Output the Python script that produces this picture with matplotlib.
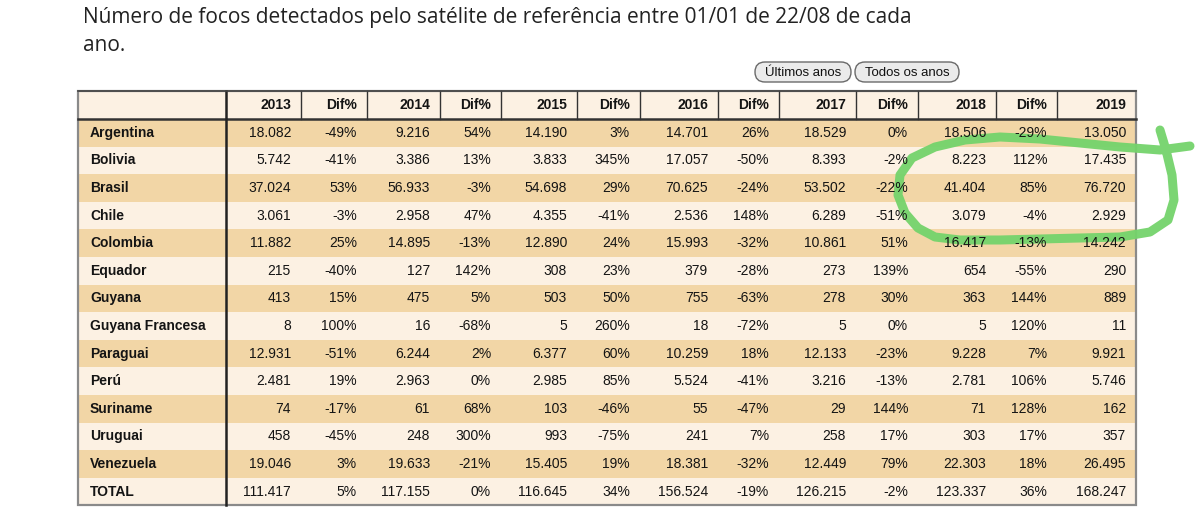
import matplotlib.pyplot as plt
from matplotlib.patches import Rectangle, FancyBboxPatch

title = "Número de focos detectados pelo satélite de referência entre 01/01 de 22/08 de cada\nano."
buttons = ["Últimos anos", "Todos os anos"]

countries = ["Argentina", "Bolivia", "Brasil", "Chile", "Colombia", "Equador", "Guyana",
             "Guyana Francesa", "Paraguai", "Perú", "Suriname", "Uruguai", "Venezuela", "TOTAL"]
years = [2013, 2014, 2015, 2016, 2017, 2018, 2019]

f2013 = [18082, 5742, 37024, 3061, 11882, 215, 413, 8, 12931, 2481, 74, 458, 19046, 111417]
d2013 = [-49, -41, 53, -3, 25, -40, 15, 100, -51, 19, -17, -45, 3, 5]
f2014 = [9216, 3386, 56933, 2958, 14895, 127, 475, 16, 6244, 2963, 61, 248, 19633, 117155]
d2014 = [54, 13, -3, 47, -13, 142, 5, -68, 2, 0, 68, 300, -21, 0]
f2015 = [14190, 3833, 54698, 4355, 12890, 308, 503, 5, 6377, 2985, 103, 993, 15405, 116645]
d2015 = [3, 345, 29, -41, 24, 23, 50, 260, 60, 85, -46, -75, 19, 34]
f2016 = [14701, 17057, 70625, 2536, 15993, 379, 755, 18, 10259, 5524, 55, 241, 18381, 156524]
d2016 = [26, -50, -24, 148, -32, -28, -63, -72, 18, -41, -47, 7, -32, -19]
f2017 = [18529, 8393, 53502, 6289, 10861, 273, 278, 5, 12133, 3216, 29, 258, 12449, 126215]
d2017 = [0, -2, -22, -51, 51, 139, 30, 0, -23, -13, 144, 17, 79, -2]
f2018 = [18506, 8223, 41404, 3079, 16417, 654, 363, 5, 9228, 2781, 71, 303, 22303, 123337]
d2018 = [-29, 112, 85, -4, -13, -55, 144, 120, 7, 106, 128, 17, 18, 36]
f2019 = [13050, 17435, 76720, 2929, 14242, 290, 889, 11, 9921, 5746, 162, 357, 26495, 168247]

# hand-drawn green loop (pixel coords of the scribble over the screenshot)
loop_x = [1190, 1160, 1120, 1080, 1040, 1000, 965, 935, 912, 900, 898, 905, 918, 935, 960,
          1000, 1040, 1080, 1120, 1150, 1168, 1174, 1172, 1166, 1160]
loop_y = [146, 150, 147, 143, 139, 137, 140, 147, 158, 175, 195, 213, 228, 237, 240,
          240, 239, 238, 237, 232, 220, 200, 175, 150, 130]


def fmt_num(v):
    return f"{v:,}".replace(",", ".")


columns = []
for i, y in enumerate(years):
    columns.append((str(y), [fmt_num(v) for v in [f2013, f2014, f2015, f2016, f2017, f2018, f2019][i]]))
    if i < len(years) - 1:
        columns.append(("Dif%", [f"{v}%" for v in [d2013, d2014, d2015, d2016, d2017, d2018][i]]))

col_edges = [78, 226, 301, 367, 440, 501, 577, 640, 718, 779, 856, 918, 996, 1057, 1136]
top, head_h, row_h = 91, 28, 27.6
dark_row = "#f2d6a6"
light_row = "#fcf1e3"
header_bg = "#fcf1e3"
txt = "#141414"

plt.rcParams["font.family"] = ["Liberation Sans", "DejaVu Sans"]
fig = plt.figure(figsize=(12, 5.26), dpi=100)
ax = fig.add_axes([0, 0, 1, 1])
ax.set_xlim(0, 1200)
ax.set_ylim(526, 0)
ax.axis("off")

ax.text(83, 7, title, fontsize=15, family=["Open Sans", "DejaVu Sans"], color="#222222",
        va="top", ha="left", linespacing=1.45)

# buttons
for (x0, x1), label in zip([(755, 851), (855, 959)], buttons):
    ax.add_patch(FancyBboxPatch((x0, 62), x1 - x0, 20, boxstyle="round,pad=0,rounding_size=10",
                                facecolor="#ebebeb", edgecolor="#6a6a6a", linewidth=1))
    ax.text((x0 + x1) / 2, 72.5, label, fontsize=9.5, ha="center", va="center", color="#111111")

n = len(countries)
left, right = col_edges[0], col_edges[-1]
bottom = top + head_h + n * row_h

# header
ax.add_patch(Rectangle((left, top), right - left, head_h, facecolor=header_bg, edgecolor="none"))
for j, (lab, _) in enumerate(columns):
    ax.text(col_edges[j + 2] - 10, top + head_h / 2, lab, fontsize=10, fontweight="bold",
            ha="right", va="center", color=txt)
for xe in col_edges[2:-1]:
    ax.plot([xe, xe], [top, top + head_h], color="#333333", lw=1)

# body rows
for i, name in enumerate(countries):
    y0 = top + head_h + i * row_h
    ax.add_patch(Rectangle((left, y0), right - left, row_h,
                           facecolor=dark_row if i % 2 == 0 else light_row, edgecolor="none"))
    yc = y0 + row_h / 2
    ax.text(left + 12, yc, name, fontsize=10, fontweight="bold", ha="left", va="center", color=txt)
    for j, (_, vals) in enumerate(columns):
        ax.text(col_edges[j + 2] - 10, yc, vals[i], fontsize=10, ha="right", va="center", color=txt)

# lines
ax.plot([left, right], [top + head_h, top + head_h], color="#333333", lw=1.8)
ax.plot([col_edges[1], col_edges[1]], [top, bottom], color="#222222", lw=1.8)
ax.add_patch(Rectangle((left, top), right - left, bottom - top, facecolor="none",
                       edgecolor="#8a8a8a", linewidth=1.6))
ax.plot([left, right], [top, top], color="#444444", lw=1.2)

ax.plot(loop_x, loop_y, color="#74d36b", lw=6.5, solid_capstyle="round", solid_joinstyle="round",
        alpha=0.95)

fig.savefig("out.png", dpi=100)
